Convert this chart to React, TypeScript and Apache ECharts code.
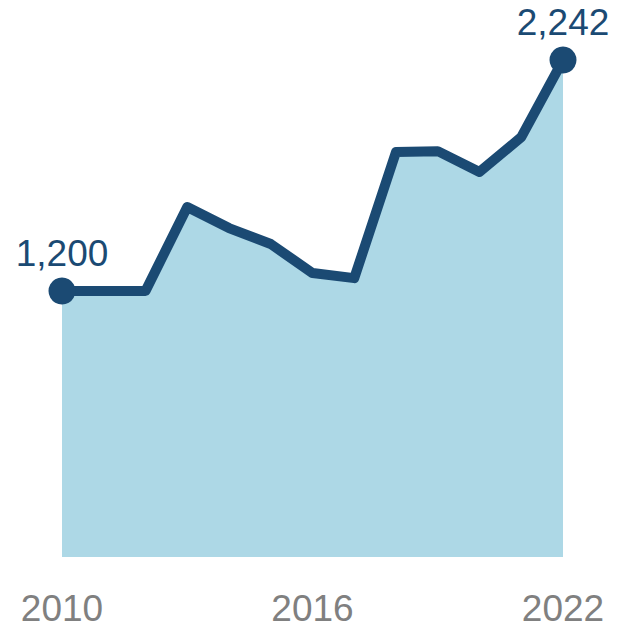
import React, { useEffect, useRef } from "react";
import * as echarts from "echarts";

const years = ["2010", "2011", "2012", "2013", "2014", "2015", "2016", "2017", "2018", "2019", "2020", "2021", "2022"];
const values = [1200, 1200, 1200, 1579, 1484, 1412, 1281, 1258, 1827, 1831, 1737, 1894, 2242];
const labelledIdx = [0, 12];

const LINE = "#1b4a73";
const FILL = "#add8e6";
const FONT = "'Liberation Sans', Arial, Helvetica, sans-serif";

export default function App() {
  const ref = useRef<HTMLDivElement>(null);
  useEffect(() => {
    if (!ref.current) return;
    const chart = echarts.init(ref.current, null, { renderer: "svg" });
    const data = values.map((v, i) =>
      labelledIdx.includes(i)
        ? {
            value: v,
            symbol: "circle",
            symbolSize: 27,
            label: {
              show: true,
              position: "top",
              distance: 6,
              formatter: (p: any) => Number(p.value).toLocaleString("en-US"),
            },
          }
        : { value: v, symbol: "none" }
    );
    chart.setOption({
      animation: false,
      grid: { left: 62, right: 58, top: 25, bottom: 70 },
      xAxis: {
        type: "category",
        data: years,
        boundaryGap: false,
        axisLine: { show: false },
        axisTick: { show: false },
        splitLine: { show: false },
        axisLabel: {
          interval: 5,
          margin: 36,
          fontSize: 37,
          lineHeight: 30,
          color: "#808080",
          fontFamily: FONT,
        },
      },
      yAxis: {
        type: "value",
        min: 0,
        max: 2400,
        show: false,
        splitLine: { show: false },
      },
      series: [
        {
          type: "line",
          data,
          showSymbol: true,
          symbol: "none",
          clip: false,
          lineStyle: { color: LINE, width: 10, join: "round" },
          itemStyle: { color: LINE },
          areaStyle: { color: FILL, opacity: 1 },
          label: {
            fontSize: 37,
            color: LINE,
            fontFamily: FONT,
          },
        },
      ],
    });
    return () => chart.dispose();
  }, []);
  return (
    <div
      ref={ref}
      style={{ position: "absolute", left: 0, top: 0, width: 621, height: 627 }}
    />
  );
}
